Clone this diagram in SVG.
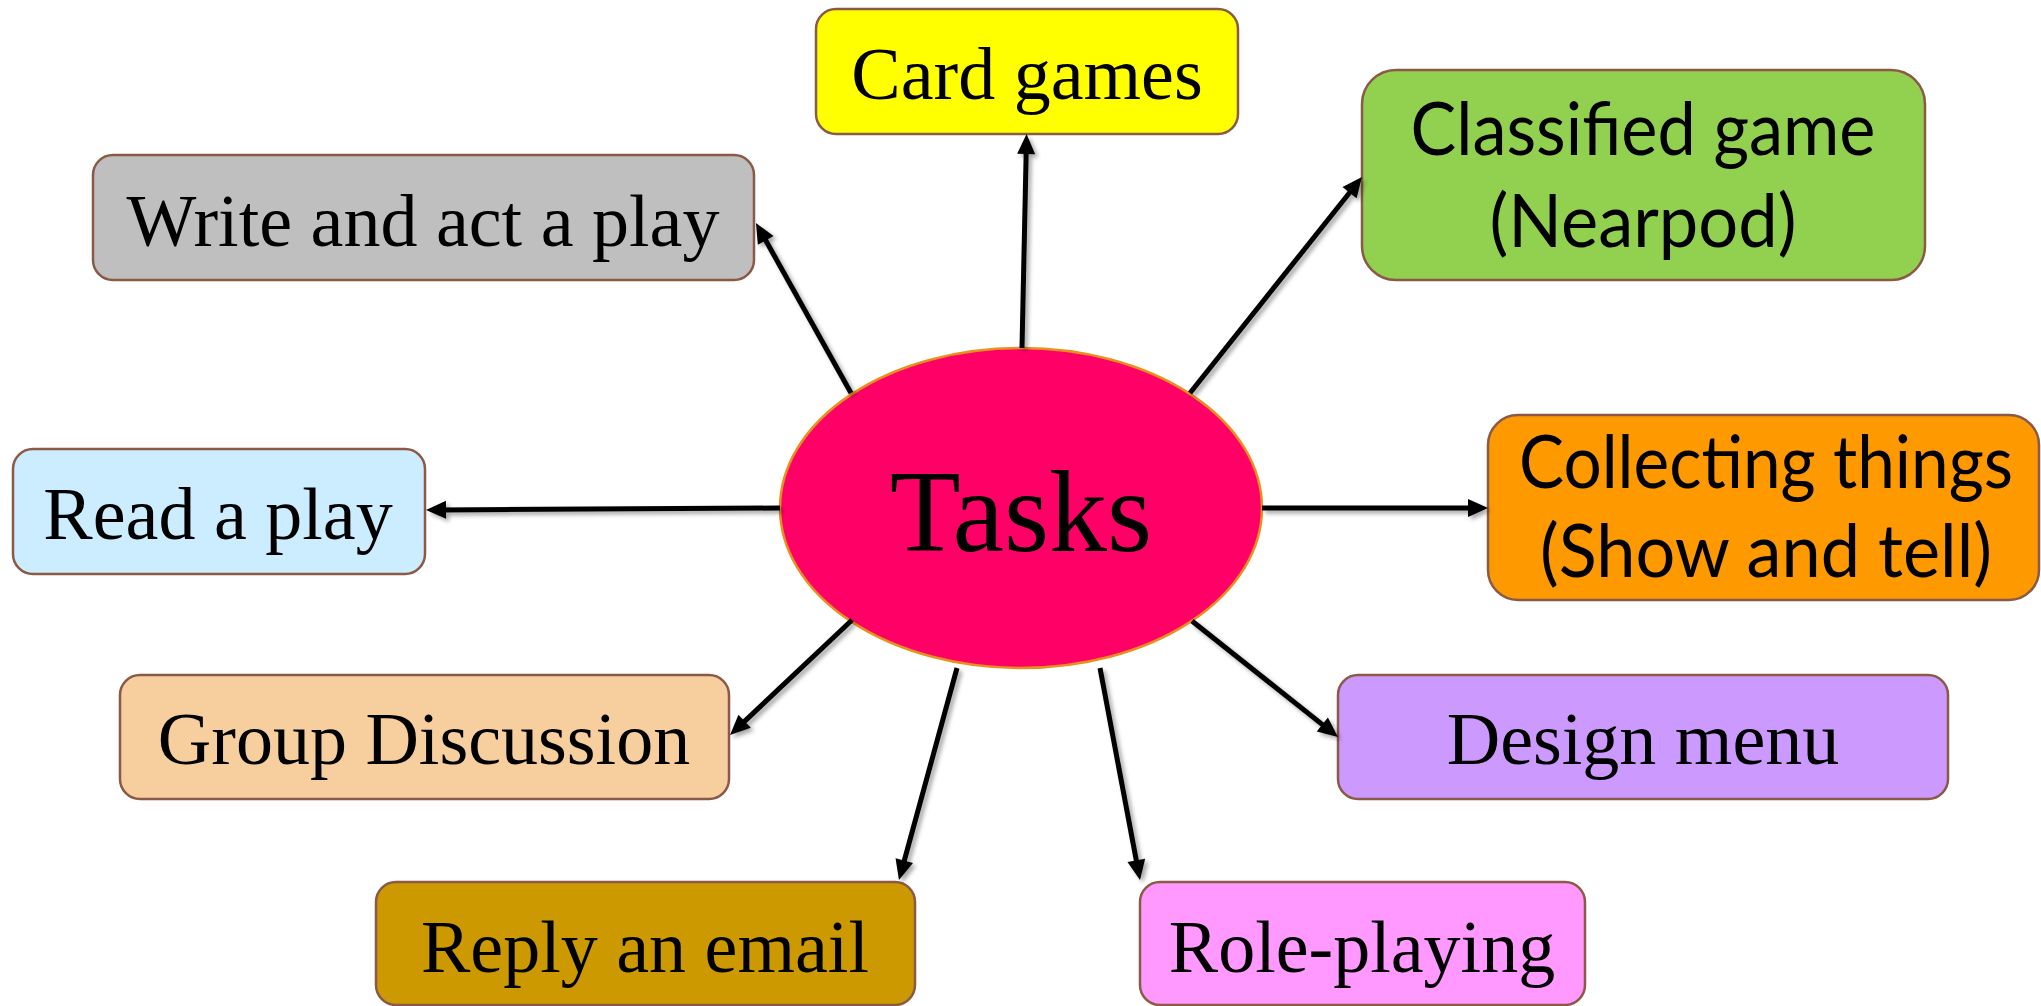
<svg xmlns="http://www.w3.org/2000/svg" width="2041" height="1006" viewBox="0 0 2041 1006">
<style>
.box{stroke:#8B5A46;stroke-width:2.5}
.serif{font-family:"Liberation Serif","Times New Roman",serif;font-size:74px;fill:#000;text-anchor:middle}
.sans{font-family:Lato,"Open Sans",sans-serif;font-size:74px;fill:#000;text-anchor:middle}
.conn{stroke:#000;stroke-width:5;fill:none;marker-end:url(#arr)}
</style>
<defs>
<marker id="arr" markerUnits="userSpaceOnUse" markerWidth="22" markerHeight="20" refX="7" refY="9" orient="auto" overflow="visible">
<path d="M0,0 L20,9 L0,18 Z" fill="#000"/>
</marker>
<filter id="sh" x="-20%" y="-20%" width="140%" height="140%">
<feDropShadow dx="3" dy="3" stdDeviation="2" flood-color="#000" flood-opacity="0.35"/>
</filter>
</defs>
<rect width="2041" height="1006" fill="#fff"/>
<g id="node-tasks">
<ellipse cx="1021" cy="508" rx="241" ry="160" fill="#FF0066" stroke="#E8901E" stroke-width="2.5"/>
<text x="1021" y="551" font-family="Liberation Serif, Times New Roman, serif" font-size="116" text-anchor="middle" fill="#000">Tasks</text>
</g>
<g id="node-card-games">
<rect class="box" x="816" y="9" width="422" height="125" rx="20" fill="#FFFF00"/>
<text class="serif" x="1027" y="99">Card games</text>
</g>
<g id="node-classified-game">
<rect class="box" x="1362" y="70" width="563" height="210" rx="34" fill="#92D050"/>
<text class="sans" x="1643" y="155" textLength="465" lengthAdjust="spacingAndGlyphs">Classified game</text>
<text class="sans" x="1643" y="247" textLength="307" lengthAdjust="spacingAndGlyphs">(Nearpod)</text>
</g>
<g id="node-write-play">
<rect class="box" x="93" y="155" width="661" height="125" rx="20" fill="#BFBFBF"/>
<text class="serif" x="423" y="246">Write and act a play</text>
</g>
<g id="node-read-play">
<rect class="box" x="13" y="449" width="412" height="125" rx="20" fill="#CCECFF"/>
<text class="serif" x="218" y="539">Read a play</text>
</g>
<g id="node-collecting">
<rect class="box" x="1488" y="415" width="551" height="185" rx="30" fill="#FF9900"/>
<text class="sans" x="1766" y="488" textLength="494" lengthAdjust="spacingAndGlyphs">Collecting things</text>
<text class="sans" x="1766" y="577" textLength="452" lengthAdjust="spacingAndGlyphs">(Show and tell)</text>
</g>
<g id="node-group-discussion">
<rect class="box" x="120" y="675" width="609" height="124" rx="20" fill="#F7CF9F"/>
<text class="serif" x="424" y="764">Group Discussion</text>
</g>
<g id="node-design-menu">
<rect class="box" x="1338" y="675" width="610" height="124" rx="20" fill="#CC99FF"/>
<text class="serif" x="1643" y="764">Design menu</text>
</g>
<g id="node-reply-email">
<rect class="box" x="376" y="882" width="539" height="123" rx="20" fill="#CC9900"/>
<text class="serif" x="645" y="972">Reply an email</text>
</g>
<g id="node-role-playing">
<rect class="box" x="1140" y="882" width="445" height="123" rx="20" fill="#FF99FF"/>
<text class="serif" x="1362" y="972">Role-playing</text>
</g>
<g id="connectors" filter="url(#sh)">
<line class="conn" x1="1022" y1="348" x2="1026.3" y2="147"/>
<line class="conn" x1="1190" y1="393" x2="1353.9" y2="187.2"/>
<line class="conn" x1="851" y1="393" x2="762.3" y2="234.3"/>
<line class="conn" x1="780" y1="508" x2="439" y2="509.9"/>
<line class="conn" x1="1262" y1="508" x2="1475" y2="508"/>
<line class="conn" x1="852" y1="620" x2="739.5" y2="726.1"/>
<line class="conn" x1="957" y1="668" x2="902.4" y2="867.5"/>
<line class="conn" x1="1100" y1="668" x2="1137.6" y2="867.2"/>
<line class="conn" x1="1192" y1="621" x2="1327.8" y2="728.9"/>
</g>
</svg>
